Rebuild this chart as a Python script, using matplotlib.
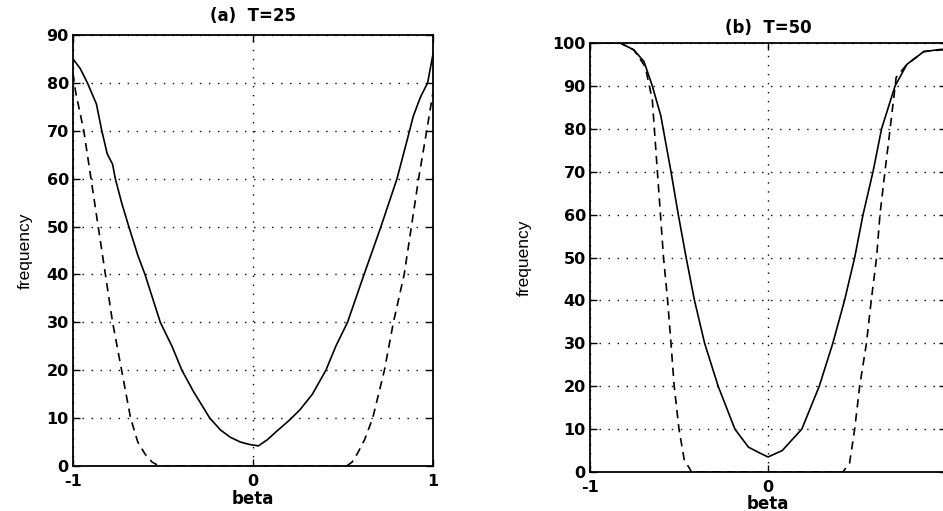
import matplotlib
matplotlib.use("Agg")
import matplotlib.pyplot as plt

plt.rcParams['font.family'] = ['DejaVu Sans']

# ---- data ----
xticks = [-1, 0, 1]
xtick_labels_a = ["-1", "0", "1"]
xtick_labels_b = ["-1", "0", ""]   # the "1" of panel (b) lies outside the scanned page

a_title = "(a)  T=25"
a_yticks = list(range(0, 91, 10))
a_solid_beta = [-1.0, -0.96, -0.92, -0.87, -0.84, -0.81, -0.78, -0.765, -0.73, -0.69, -0.64, -0.60,
                -0.515, -0.45, -0.395, -0.33, -0.24, -0.18, -0.126, -0.07, -0.02, 0.03, 0.08, 0.13,
                0.20, 0.26, 0.33, 0.405, 0.46, 0.525, 0.617, 0.711, 0.80, 0.856, 0.89, 0.93, 0.97, 1.0]
a_solid_freq = [85, 83, 80, 75.6, 70, 65.2, 63, 60, 55, 50, 44, 40,
                30, 25, 20, 15.5, 10, 7.5, 6, 5, 4.5, 4.2, 5.5, 7.2,
                9.5, 11.7, 15, 20, 25, 30, 40, 50, 60, 68, 73, 77, 80, 86]
a_dash_beta = [-1.0, -0.985, -0.94, -0.90, -0.86, -0.82, -0.78, -0.73, -0.68, -0.64, -0.60, -0.56, -0.52,
               0.52, 0.55, 0.58, 0.62, 0.665, 0.73, 0.78, 0.84, 0.88, 0.92, 0.965, 1.0]
a_dash_freq = [82, 78, 70, 60, 50, 40, 30, 20, 10, 5, 2.5, 0.8, 0,
               0, 0.8, 2.6, 5.5, 10, 20, 30, 40, 50, 60, 70, 78]

b_title = "(b)  T=50"
b_yticks = list(range(0, 101, 10))
b_solid_beta = [-1.0, -0.83, -0.754, -0.697, -0.65, -0.602, -0.545, -0.504, -0.46, -0.413, -0.356, -0.28,
                -0.186, -0.11, -0.05, 0.0, 0.08, 0.19, 0.288, 0.364, 0.43, 0.487, 0.534, 0.59, 0.638,
                0.714, 0.78, 0.875, 0.97, 1.0]
b_solid_freq = [100, 100, 98.4, 95.7, 90, 83, 70, 60, 50, 40, 30, 20,
                10, 5.8, 4.5, 3.5, 5, 10, 20, 30, 40, 50, 60, 70, 80,
                90, 95, 98, 98.5, 98.5]
b_dash_beta = [-1.0, -0.83, -0.754, -0.69, -0.65, -0.63, -0.61, -0.587, -0.564, -0.545, -0.527, -0.5, -0.47,
               -0.44, -0.43, 0.42, 0.458, 0.487, 0.515, 0.553, 0.58, 0.61, 0.629, 0.657, 0.686, 0.72,
               0.78, 0.875, 1.0]
b_dash_freq = [100, 100, 98.4, 94.5, 86.8, 75, 63.4, 50, 40, 30, 20, 10, 2.7,
               0.8, 0, 0, 2, 10, 20, 30, 40, 50, 60, 70, 80, 92,
               95, 98, 98.5]

fig = plt.figure(figsize=(9.43, 5.11), dpi=100)
ax1 = fig.add_axes([73 / 943, 45 / 511, 360 / 943, 431 / 511])
ax2 = fig.add_axes([590 / 943, 39 / 511, 356 / 943, 429 / 511])

def style(ax, title, yticks, ymax, xlabels, title_pad, ylab_x, xlab_pad):
    ax.set_xlim(-1, 1)
    ax.set_ylim(0, ymax)
    ax.set_xticks(xticks)
    ax.set_xticklabels(xlabels)
    ax.set_yticks(yticks)
    ax.grid(True, color='black', linestyle=(0, (1, 5.5)), linewidth=1.0)
    ax.tick_params(direction='in', top=True, right=True, length=5, width=1)
    ax.tick_params(axis='y', labelsize=11.5, pad=3)
    ax.tick_params(axis='x', labelsize=11.5, pad=6)
    for lab in ax.get_xticklabels() + ax.get_yticklabels():
        lab.set_fontweight('bold')
    for s in ax.spines.values():
        s.set_linewidth(1.3)
    ax.set_title(title, fontsize=12, fontweight='bold', pad=title_pad)
    ax.set_xlabel("beta", fontsize=12, fontweight='bold', labelpad=xlab_pad)
    ax.set_ylabel("frequency", fontsize=12.5,
                  family=['Liberation Sans Narrow', 'Liberation Sans', 'DejaVu Sans'])
    ax.yaxis.set_label_coords(ylab_x, 0.5)

ax1.plot(a_solid_beta, a_solid_freq, color='black', linewidth=1.2)
ax1.plot(a_dash_beta, a_dash_freq, color='black', linewidth=1.2, linestyle=(0, (5, 3.5)))
style(ax1, a_title, a_yticks, 90, xtick_labels_a, 10, -0.111, 0.5)

ax2.plot(b_solid_beta, b_solid_freq, color='black', linewidth=1.2)
ax2.plot(b_dash_beta, b_dash_freq, color='black', linewidth=1.2, linestyle=(0, (5, 3.5)))
style(ax2, b_title, b_yticks, 100, xtick_labels_b, 7, -0.164, -0.5)

fig.savefig("out.png", dpi=100)
